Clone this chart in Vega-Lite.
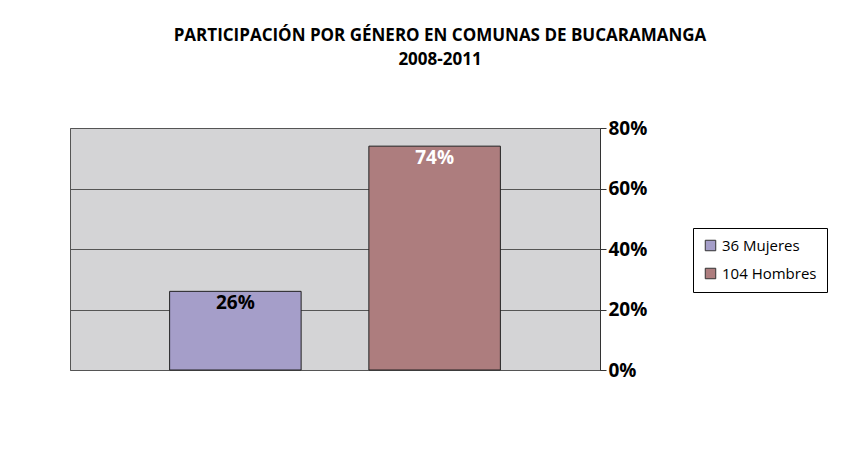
{
  "$schema": "https://vega.github.io/schema/vega-lite/v6.json",
  "autosize": "none",
  "width": 530,
  "height": 242,
  "padding": {"left": 70, "top": 128, "right": 248, "bottom": 101},
  "background": "white",
  "title": {
    "text": ["PARTICIPACIÓN POR GÉNERO EN COMUNAS DE BUCARAMANGA", "2008-2011"],
    "font": "Open Sans",
    "fontSize": 17,
    "fontWeight": "bold",
    "color": "black",
    "anchor": "middle",
    "dx": 105,
    "offset": 50,
    "lineHeight": 24
  },
  "data": {
    "values": [
      {"genero": "36 Mujeres", "pct": 0.26, "label": "26%"},
      {"genero": "104 Hombres", "pct": 0.74, "label": "74%"}
    ]
  },
  "config": {
    "view": {"fill": "#d4d4d6", "stroke": "#555555", "strokeWidth": 1},
    "font": "Open Sans"
  },
  "encoding": {
    "x": {
      "field": "genero",
      "type": "nominal",
      "sort": ["36 Mujeres", "104 Hombres"],
      "scale": {"paddingInner": 0.34, "paddingOuter": 0.5},
      "axis": null
    },
    "y": {
      "field": "pct",
      "type": "quantitative",
      "scale": {"domain": [0, 0.8], "nice": false},
      "axis": {
        "orient": "right",
        "format": ".0%",
        "values": [0, 0.2, 0.4, 0.6, 0.8],
        "labelFont": "Open Sans",
        "labelFontSize": 19,
        "labelFontWeight": "bold",
        "labelColor": "black",
        "tickColor": "#333333",
        "tickSize": 6,
        "domainColor": "#333333",
        "grid": true,
        "gridColor": "#555555",
        "gridWidth": 1,
        "title": null
      }
    }
  },
  "layer": [
    {
      "mark": {"type": "bar", "stroke": "#222222", "strokeWidth": 1},
      "encoding": {
        "color": {
          "field": "genero",
          "type": "nominal",
          "sort": ["36 Mujeres", "104 Hombres"],
          "scale": {"domain": ["36 Mujeres", "104 Hombres"], "range": ["#a59ec9", "#ad7d7e"]},
          "legend": {
            "title": null,
            "orient": "none",
            "legendX": 623,
            "legendY": 100,
            "symbolType": "square",
            "symbolSize": 110,
            "symbolStrokeColor": "#333333",
            "symbolStrokeWidth": 1,
            "labelFont": "Open Sans",
            "labelFontSize": 15,
            "labelColor": "black",
            "rowPadding": 12,
            "padding": 10,
            "strokeColor": "black",
            "fillColor": "white"
          }
        }
      }
    },
    {
      "mark": {"type": "text", "baseline": "top", "dy": 3, "fontSize": 19, "fontWeight": "bold", "font": "Open Sans"},
      "encoding": {
        "text": {"field": "label"},
        "color": {
          "condition": {"test": "datum.pct > 0.5", "value": "white"},
          "value": "black"
        }
      }
    }
  ]
}
